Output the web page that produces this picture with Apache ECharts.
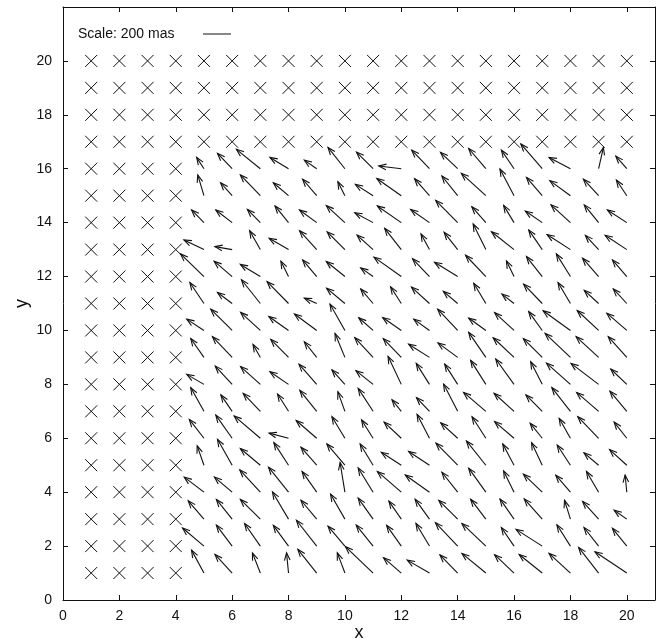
<!DOCTYPE html>
<html>
<head>
<meta charset="utf-8">
<script src="https://cdn.jsdelivr.net/npm/echarts@6/dist/echarts.min.js"></script>
<style>
  html, body { margin: 0; padding: 0; background: #fff; }
  #chart { width: 660px; height: 643px; }
</style>
</head>
<body>
<div id="chart"></div>
<script>
// grid columns / rows that carry a vector
const vecXs = [5, 6, 7, 8, 9, 10, 11, 12, 13, 14, 15, 16, 17, 18, 19, 20]
const vecYs = [1, 2, 3, 4, 5, 6, 7, 8, 9, 10, 11, 12, 13, 14, 15, 16]
// all grid positions (the rest are drawn as crosses)
const gridXs = [1, 2, 3, 4, 5, 6, 7, 8, 9, 10, 11, 12, 13, 14, 15, 16, 17, 18, 19, 20]
const gridYs = [1, 2, 3, 4, 5, 6, 7, 8, 9, 10, 11, 12, 13, 14, 15, 16, 17, 18, 19, 20]

// displacement in x (axis units, 1 unit = 200 mas), one row per y = 1..16
const uRows = [
  [-0.44, -0.61, -0.28, -0.07, -0.67, -0.27, -0.98, -0.63, -0.79, -0.63, -0.85, -0.69, -0.82, -0.76, -0.71, -1.13],
  [-0.76, -0.56, -0.56, -0.54, -0.72, -0.60, -0.60, -0.52, -0.48, -0.79, -0.85, -0.45, -0.93, -0.48, -0.52, -0.51],
  [-0.56, -0.56, -0.71, -0.57, -0.56, -0.51, -0.53, -0.44, -0.51, -0.67, -0.54, -0.50, -0.64, -0.21, -0.57, -0.45],
  [-0.70, -0.63, -0.73, -0.71, -0.52, -0.17, -0.53, -0.85, -0.86, -0.56, -0.61, -0.37, -0.67, -0.52, -0.43, -0.06],
  [-0.24, -0.52, -0.71, -0.52, -0.56, -0.64, -0.46, -0.71, -0.74, -0.77, -0.69, -0.40, -0.38, -0.47, -0.52, -0.61],
  [-0.52, -0.58, -0.93, -0.69, -0.73, -0.46, -0.41, -0.61, -0.44, -0.60, -0.49, -0.69, -0.43, -0.40, -0.74, -0.45],
  [-0.47, -0.40, -0.61, -0.39, -0.60, -0.25, -0.53, -0.33, -0.46, -0.50, -0.79, -0.71, -0.58, -0.66, -0.78, -0.60],
  [-0.61, -0.60, -0.70, -0.66, -0.63, -0.46, -0.61, -0.47, -0.47, -0.46, -0.54, -0.65, -0.41, -0.85, -0.98, -0.57],
  [-0.47, -0.70, -0.26, -0.63, -0.44, -0.35, -0.65, -0.64, -0.74, -0.70, -0.61, -0.74, -0.67, -0.90, -0.80, -0.66],
  [-0.61, -0.76, -0.70, -0.70, -0.79, -0.53, -0.51, -0.66, -0.56, -0.71, -0.61, -0.69, -0.48, -0.97, -0.76, -0.71],
  [-0.50, -0.52, -0.67, -0.76, -0.44, -0.65, -0.44, -0.38, -0.64, -0.51, -0.43, -0.43, -0.66, -0.44, -0.51, -0.48],
  [-0.83, -0.64, -0.71, -0.27, -0.50, -0.66, -0.44, -0.97, -0.60, -0.82, -0.72, -0.27, -0.56, -0.50, -0.57, -0.51],
  [-0.71, -0.61, -0.38, -0.69, -0.61, -0.63, -0.57, -0.59, -0.30, -0.48, -0.45, -0.80, -0.48, -0.83, -0.47, -0.77],
  [-0.44, -0.58, -0.46, -0.48, -0.61, -0.66, -0.65, -0.85, -0.67, -0.78, -0.50, -0.37, -0.60, -0.69, -0.51, -0.69],
  [-0.22, -0.41, -0.71, -0.54, -0.50, -0.25, -0.63, -0.87, -0.53, -0.56, -0.87, -0.50, -0.56, -0.73, -0.54, -0.37],
  [-0.26, -0.52, -0.85, -0.66, -0.44, -0.60, -0.59, -0.80, -0.63, -0.61, -0.61, -0.45, -0.76, -0.76, 0.17, -0.39]
]
// displacement in y, same layout
const vRows = [
  [0.85, 0.69, 0.75, 0.75, 0.88, 0.75, 0.98, 0.57, 0.48, 0.67, 0.73, 0.68, 0.69, 0.73, 0.95, 0.79],
  [0.67, 0.78, 0.84, 0.77, 0.96, 0.74, 0.78, 0.77, 0.84, 0.87, 0.84, 0.69, 0.62, 0.79, 0.69, 0.66],
  [0.68, 0.73, 0.73, 1.01, 0.70, 0.93, 0.78, 0.67, 0.74, 0.70, 0.74, 0.75, 0.75, 0.70, 0.66, 0.33],
  [0.56, 0.56, 0.83, 0.93, 0.77, 1.10, 0.90, 0.77, 0.64, 0.74, 0.89, 0.79, 0.67, 0.63, 0.77, 0.64],
  [0.72, 0.96, 0.62, 0.84, 0.67, 0.79, 0.79, 0.48, 0.51, 0.82, 0.90, 0.79, 0.84, 0.75, 0.46, 0.58],
  [0.70, 0.86, 0.83, 0.19, 0.66, 0.80, 0.68, 0.60, 0.89, 0.57, 0.80, 0.62, 0.56, 0.74, 0.80, 0.60],
  [0.88, 0.61, 0.67, 0.64, 0.78, 0.73, 0.85, 0.43, 0.51, 1.01, 0.70, 0.67, 0.61, 0.88, 0.70, 0.75],
  [0.37, 0.68, 0.66, 0.47, 0.75, 0.54, 0.51, 1.04, 0.78, 0.75, 0.89, 0.94, 0.84, 0.79, 0.78, 0.57],
  [0.70, 0.77, 0.48, 0.67, 0.58, 0.89, 0.73, 0.70, 0.49, 0.54, 0.93, 0.73, 0.70, 0.89, 0.77, 0.77],
  [0.42, 0.79, 0.67, 0.52, 0.61, 0.98, 0.47, 0.48, 0.42, 0.79, 0.46, 0.66, 0.70, 0.73, 0.74, 0.64],
  [0.78, 0.41, 0.88, 0.81, 0.20, 0.57, 0.54, 0.62, 0.61, 0.45, 0.75, 0.35, 0.72, 0.78, 0.49, 0.54],
  [0.84, 0.57, 0.45, 0.57, 0.62, 0.56, 0.32, 0.72, 0.66, 0.53, 0.79, 0.58, 0.74, 0.84, 0.68, 0.62],
  [0.36, 0.11, 0.70, 0.42, 0.70, 0.66, 0.54, 0.79, 0.58, 0.64, 0.95, 0.66, 0.73, 0.56, 0.53, 0.53],
  [0.47, 0.47, 0.49, 0.62, 0.47, 0.63, 0.37, 0.62, 0.49, 0.83, 0.59, 0.64, 0.43, 0.66, 0.66, 0.47],
  [0.77, 0.48, 0.77, 0.48, 0.61, 0.52, 0.42, 0.64, 0.63, 0.73, 0.83, 0.99, 0.68, 0.56, 0.61, 0.58],
  [0.42, 0.57, 0.72, 0.42, 0.32, 0.79, 0.62, 0.10, 0.69, 0.61, 0.75, 0.69, 0.92, 0.42, 0.79, 0.47]
]

const xTicks = [0, 2, 4, 6, 8, 10, 12, 14, 16, 18, 20]
const yTicks = [0, 2, 4, 6, 8, 10, 12, 14, 16, 18, 20]
const scaleText = 'Scale: 200 mas'

const FONT = '"Liberation Sans", Arial, sans-serif'
const INK = '#111'

// build data for the series
const vectorData = []
vecYs.forEach((y, i) => {
  vecXs.forEach((x, j) => {
    vectorData.push([x, y, uRows[i][j], vRows[i][j]])
  })
})
const crossData = []
gridYs.forEach(y => {
  gridXs.forEach(x => {
    const inField = vecXs.includes(x) && vecYs.includes(y)
    if (!inField) crossData.push([x, y])
  })
})

const renderArrow = (params, api) => {
  const x = api.value(0)
  const y = api.value(1)
  const p0 = api.coord([x, y])
  const p1 = api.coord([x + api.value(2), y + api.value(3)])
  const ang = Math.atan2(p1[1] - p0[1], p1[0] - p0[0])
  const headLen = 8
  const spread = 0.36
  const h1 = [p1[0] - headLen * Math.cos(ang - spread), p1[1] - headLen * Math.sin(ang - spread)]
  const h2 = [p1[0] - headLen * Math.cos(ang + spread), p1[1] - headLen * Math.sin(ang + spread)]
  const style = { stroke: INK, lineWidth: 1.1, fill: null }
  return {
    type: 'group',
    children: [
      { type: 'line', shape: { x1: p0[0], y1: p0[1], x2: p1[0], y2: p1[1] }, style },
      { type: 'polyline', shape: { points: [h1, p1, h2] }, style }
    ]
  }
}

const renderCross = (params, api) => {
  const p = api.coord([api.value(0), api.value(1)])
  const r = 6
  const style = { stroke: INK, lineWidth: 1 }
  return {
    type: 'group',
    children: [
      { type: 'line', shape: { x1: p[0] - r, y1: p[1] - r, x2: p[0] + r, y2: p[1] + r }, style },
      { type: 'line', shape: { x1: p[0] - r, y1: p[1] + r, x2: p[0] + r, y2: p[1] - r }, style }
    ]
  }
}

const chart = echarts.init(document.getElementById('chart'), null, { renderer: 'canvas' })

const axisBase = {
  type: 'value',
  min: 0,
  interval: 2,
  splitLine: { show: false },
  axisLine: { show: true, onZero: false, lineStyle: { color: INK, width: 1 } },
  axisTick: { show: true, inside: true, length: 5, lineStyle: { color: INK } }
}

chart.setOption({
  animation: false,
  backgroundColor: '#fff',
  grid: { left: 63, right: 5, top: 7, bottom: 43, outerBoundsMode: 'none', containLabel: false },
  xAxis: [
    {
      ...axisBase,
      max: 21,
      position: 'bottom',
      name: 'x',
      nameLocation: 'middle',
      nameGap: 24,
      nameMoveOverlap: false,
      nameTextStyle: { fontFamily: FONT, fontSize: 18, color: INK },
      axisLabel: {
        fontFamily: FONT, fontSize: 14, color: INK, margin: 9,
        formatter: v => (xTicks.includes(v) ? String(v) : '')
      }
    },
    { ...axisBase, max: 21, position: 'top', axisLabel: { show: false } }
  ],
  yAxis: [
    {
      ...axisBase,
      max: 22,
      position: 'left',
      name: 'y',
      nameLocation: 'middle',
      nameGap: 32,
      nameMoveOverlap: false,
      nameTextStyle: { fontFamily: FONT, fontSize: 18, color: INK },
      axisLabel: {
        fontFamily: FONT, fontSize: 14, color: INK, margin: 11,
        formatter: v => (yTicks.includes(v) ? String(v) : '')
      }
    },
    { ...axisBase, max: 22, position: 'right', axisLabel: { show: false } }
  ],
  graphic: [
    {
      type: 'text',
      left: 78,
      top: 27,
      style: { text: scaleText, font: '14px ' + FONT, fill: INK }
    },
    {
      type: 'line',
      shape: { x1: 203, y1: 34, x2: 231, y2: 34 },
      style: { stroke: INK, lineWidth: 1 }
    }
  ],
  series: [
    {
      type: 'custom',
      name: 'crosses',
      renderItem: renderCross,
      data: crossData,
      encode: { x: 0, y: 1 },
      silent: true
    },
    {
      type: 'custom',
      name: 'vectors',
      renderItem: renderArrow,
      data: vectorData,
      encode: { x: 0, y: 1 },
      silent: true
    }
  ]
})
</script>
</body>
</html>
